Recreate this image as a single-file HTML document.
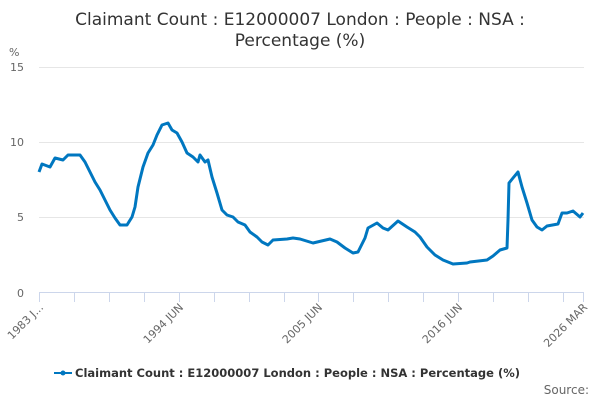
<!DOCTYPE html>
<html><head><style>
body{margin:0;background:#fff;font-family:"Liberation Sans","DejaVu Sans",sans-serif}
</style></head><body>
<svg width="600" height="400" xmlns="http://www.w3.org/2000/svg" font-family="DejaVu Sans, Liberation Sans, sans-serif">
<rect width="600" height="400" fill="#fff"/>
<text x="300" y="25" text-anchor="middle" font-size="17" fill="#333">Claimant Count : E12000007 London : People : NSA :</text>
<text x="300" y="46" text-anchor="middle" font-size="17" fill="#333">Percentage (%)</text>
<text x="9" y="56" font-size="11" fill="#666">%</text>
<g stroke="#e6e6e6" stroke-width="1">
<line x1="39" y1="67.5" x2="584" y2="67.5"/>
<line x1="39" y1="142.5" x2="584" y2="142.5"/>
<line x1="39" y1="217.5" x2="584" y2="217.5"/>
</g>
<line x1="39" y1="292.5" x2="584" y2="292.5" stroke="#ccd6eb"/>
<g stroke="#ccd6eb">
<line x1="39.5" y1="293" x2="39.5" y2="302"/><line x1="74.5" y1="293" x2="74.5" y2="302"/><line x1="109.5" y1="293" x2="109.5" y2="302"/><line x1="144.5" y1="293" x2="144.5" y2="302"/><line x1="179.5" y1="293" x2="179.5" y2="302"/><line x1="214.5" y1="293" x2="214.5" y2="302"/><line x1="249.5" y1="293" x2="249.5" y2="302"/><line x1="284.5" y1="293" x2="284.5" y2="302"/><line x1="318.5" y1="293" x2="318.5" y2="302"/><line x1="353.5" y1="293" x2="353.5" y2="302"/><line x1="388.5" y1="293" x2="388.5" y2="302"/><line x1="423.5" y1="293" x2="423.5" y2="302"/><line x1="458.5" y1="293" x2="458.5" y2="302"/><line x1="493.5" y1="293" x2="493.5" y2="302"/><line x1="528.5" y1="293" x2="528.5" y2="302"/><line x1="563.5" y1="293" x2="563.5" y2="302"/><line x1="583.5" y1="293" x2="583.5" y2="302"/>
</g>
<g font-size="11" fill="#666" text-anchor="end">
<text x="24" y="71">15</text><text x="24" y="146">10</text><text x="24" y="221">5</text><text x="24" y="297">0</text>
</g>
<g font-size="11" fill="#666" text-anchor="end">
<text transform="translate(44,308) rotate(-45)">1983 J...</text>
<text transform="translate(184,308) rotate(-45)">1994 JUN</text>
<text transform="translate(323,308) rotate(-45)">2005 JUN</text>
<text transform="translate(463,308) rotate(-45)">2016 JUN</text>
<text transform="translate(588,308) rotate(-45)">2026 MAR</text>
</g>
<polyline fill="none" stroke="#0077c0" stroke-width="3" stroke-linejoin="round" points="39,172 42,164 50,167 55,158 63,160 68,155 80,155 85,162 90,172 95,182 100,190 105,200 110,210 115,218 120,225 127,225 132,217 135,207 138,187 143,167 148,153 153,145 157,135 162,125 168,123 172,130 177,133 182,142 187,153 193,157 198,162 200,155 205,162 208,160 212,177 217,193 222,210 227,215 233,217 238,222 245,225 250,232 257,237 262,242 268,245 273,240 287,239 293,238 300,239 313,243 330,239 337,242 345,248 353,253 358,252 365,238 368,228 377,223 383,228 388,230 398,221 407,227 415,232 420,237 427,247 435,255 443,260 453,264 467,263 470,262 487,260 493,256 500,250 507,248 508,220 509,183 513,178 518,172 522,187 527,203 532,220 537,227 542,230 547,226 558,224 562,213 567,213 573,211 580,217 583,213"/>
<line x1="54" y1="373" x2="72" y2="373" stroke="#0077c0" stroke-width="2"/>
<circle cx="63" cy="373" r="2.5" fill="#0077c0"/>
<text x="75" y="377" font-size="11.5" font-weight="bold" fill="#333" textLength="445" lengthAdjust="spacingAndGlyphs">Claimant Count : E12000007 London : People : NSA : Percentage (%)</text>
<text x="589" y="394" font-size="12" fill="#666" text-anchor="end">Source:</text>
</svg>
</body></html>
